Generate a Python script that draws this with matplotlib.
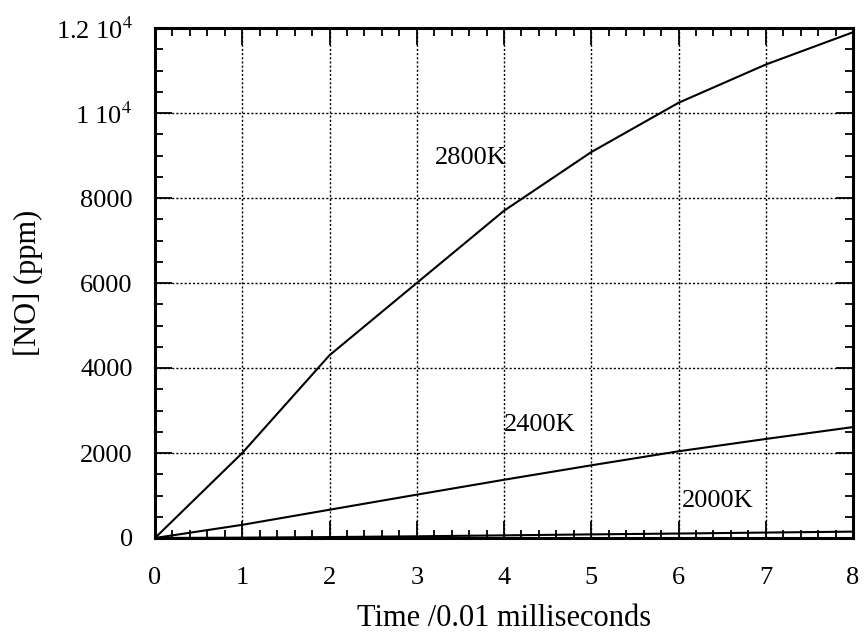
import matplotlib.pyplot as plt
from matplotlib.ticker import MultipleLocator, FixedFormatter, FixedLocator

plt.rcParams['font.family'] = ['Liberation Serif', 'DejaVu Serif']
plt.rcParams['mathtext.fontset'] = 'stix'

# 时间 (0.01 ms)
time = [0, 1, 2, 3, 4, 5, 6, 7, 8]
# 不同温度下 NO 浓度 (ppm)
no_2800 = [0, 2000, 4300, 6000, 7700, 9080, 10240, 11140, 11900]
no_2400 = [0, 310, 665, 1020, 1370, 1710, 2040, 2330, 2610]
no_2000 = [0, 8, 22, 40, 62, 85, 105, 128, 150]

labels = ['2800K', '2400K', '2000K']
label_pos = [(3.21, 8950), (4.0, 2660), (6.04, 870)]

y_ticks = [0, 2000, 4000, 6000, 8000, 10000, 12000]
y_tick_labels = ['0', '2000', '4000', '6000', '8000', '1 10$^{4}$', '1.2 10$^{4}$']

fig = plt.figure(figsize=(8.65, 6.37), dpi=100)
ax = fig.add_axes([155 / 865, 1 - 538 / 637, 698 / 865, 510 / 637])

for y in [no_2800, no_2400, no_2000]:
    ax.plot(time, y, color='black', linewidth=1.5)

for text, (x, y) in zip(labels, label_pos):
    ax.text(x, y, text, fontsize=19, ha='left', va='center')

ax.set_xlim(0, 8)
ax.set_ylim(0, 12000)
ax.xaxis.set_major_locator(MultipleLocator(1))
ax.xaxis.set_minor_locator(MultipleLocator(0.2))
ax.yaxis.set_major_locator(FixedLocator(y_ticks))
ax.yaxis.set_major_formatter(FixedFormatter(y_tick_labels))
ax.yaxis.set_minor_locator(MultipleLocator(500))

ax.tick_params(which='both', direction='in', top=True, right=True, labelsize=19)
ax.tick_params(which='major', length=12, width=1.3)
ax.tick_params(which='minor', length=6, width=1.3)
ax.tick_params(axis='x', which='major', pad=21)
ax.tick_params(axis='y', which='major', pad=16)
for s in ax.spines.values():
    s.set_linewidth(2.2)

ax.grid(True, which='major', color='black', linestyle=(0, (1.5, 1.5)), linewidth=1.0)

ax.set_xlabel('Time /0.01 milliseconds', fontsize=22, labelpad=11)
ax.set_ylabel('[NO] (ppm)', fontsize=22, labelpad=9)

fig.savefig('out.png', dpi=100)
